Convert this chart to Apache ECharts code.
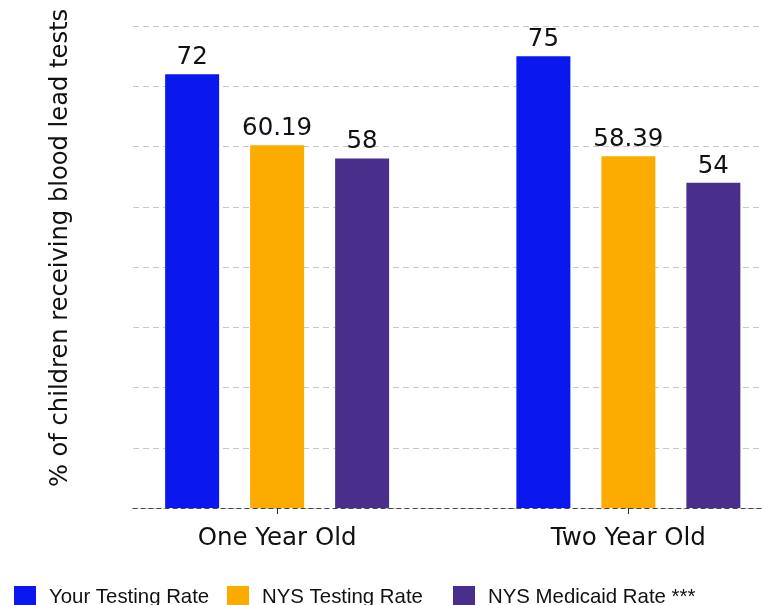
<!DOCTYPE html>
<html>
<head>
<meta charset="utf-8">
<script src="https://cdn.jsdelivr.net/npm/echarts@6/dist/echarts.min.js"></script>
<style>html,body{margin:0;padding:0;background:#fff;overflow:hidden;width:762px;height:605px}#c{width:804px;height:605px}</style>
</head>
<body>
<div id="c"></div>
<script>
var categories = ['One Year Old', 'Two Year Old'];
var seriesNames = ['Your Testing Rate', 'NYS Testing Rate', 'NYS Medicaid Rate ***'];
var yourRate = [72, 75];
var nysRate = [60.19, 58.39];
var medicaidRate = [58, 54];
var yMax = 80, yStep = 10;
var yTitle = '% of children receiving blood lead tests';

var colors = ['#0a17ee', '#fcab00', '#4a2e8c'];
var legendLefts = [14, 227, 453];
var chart = echarts.init(document.getElementById('c'), null, {renderer: 'canvas'});
function barSeries(name, data, color) {
  return {
    name: name, type: 'bar', xAxisIndex: 0, yAxisIndex: 0, data: data,
    barWidth: 54, barGap: '57.4%',
    itemStyle: {color: color},
    label: {show: true, position: 'top', distance: 4, color: '#111',
      fontFamily: 'DejaVu Sans', fontSize: 24.5},
    z: 3
  };
}
chart.setOption({
  animation: false,
  color: colors,
  grid: [
    {left: 101.5, right: 0, top: 26, bottom: 97, containLabel: false},
    {left: 133, right: 42, top: 26, bottom: 97, containLabel: false}
  ],
  xAxis: [
    {type: 'category', gridIndex: 0, data: categories,
      axisLine: {show: false},
      axisTick: {show: true, alignWithLabel: true, length: 6, lineStyle: {color: '#333'}},
      axisLabel: {color: '#111', fontFamily: 'DejaVu Sans', fontSize: 24.5, margin: 18}},
    {type: 'value', gridIndex: 1, min: 0, max: 1,
      axisLine: {show: true, lineStyle: {color: '#444', type: [4, 4], width: 1}},
      axisTick: {show: false}, axisLabel: {show: false}, splitLine: {show: false}}
  ],
  yAxis: [
    {type: 'value', gridIndex: 0, min: 0, max: yMax, interval: yStep,
      axisLine: {show: false}, axisTick: {show: false}, axisLabel: {show: false}, splitLine: {show: false}},
    {type: 'value', gridIndex: 1, min: 0, max: yMax, interval: yStep,
      axisLine: {show: false}, axisTick: {show: false}, axisLabel: {show: false},
      splitLine: {show: true, lineStyle: {color: '#c8c8c8', type: [6, 4], width: 1}}}
  ],
  legend: seriesNames.map(function (n, i) {
    return {
      left: legendLefts[i], top: 586, padding: 0, itemWidth: 22, itemHeight: 22,
      icon: 'rect', data: [n], selectedMode: false,
      textStyle: {color: '#111', fontFamily: 'Liberation Sans', fontSize: 20.4, padding: [0, 0, 0, 8]}
    };
  }),
  graphic: [{
    type: 'text', x: 61, y: 248, rotation: Math.PI / 2,
    style: {text: yTitle, fill: '#111', font: '24.2px "DejaVu Sans"', align: 'center', verticalAlign: 'middle'}
  }],
  series: [
    barSeries(seriesNames[0], yourRate, colors[0]),
    barSeries(seriesNames[1], nysRate, colors[1]),
    barSeries(seriesNames[2], medicaidRate, colors[2])
  ]
});
</script>
</body>
</html>
